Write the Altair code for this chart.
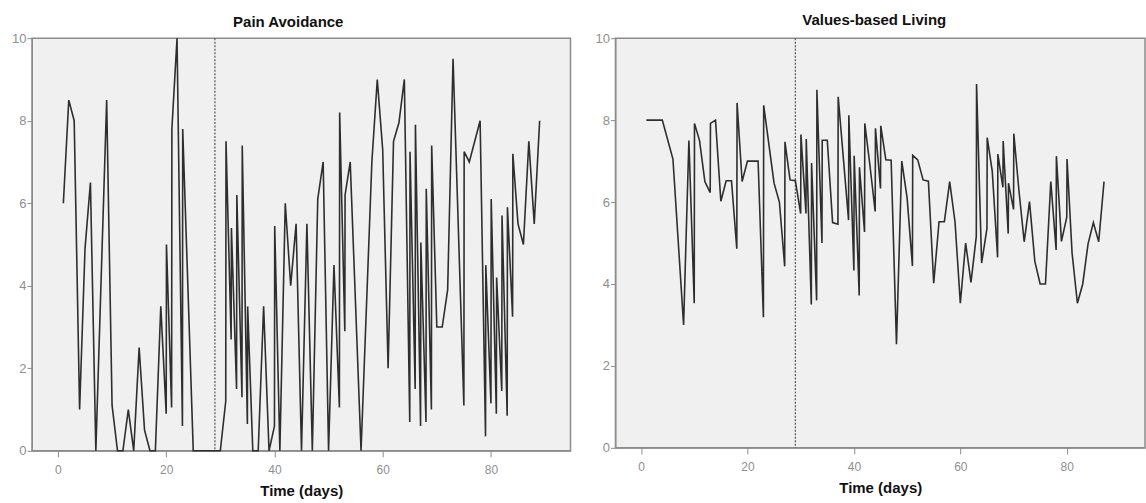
import altair as alt
import pandas as pd

# ---------------- data ----------------
pain_days = [1, 2, 3, 4, 5, 6, 7, 9, 10, 11, 12, 13, 14, 15, 16, 17, 18, 19, 20, 20.05,
             21, 21.05, 22, 23, 23.05, 25, 30, 31, 31.05, 32, 32.05, 33, 33.05, 34, 34.05,
             35, 35.05, 36, 37, 38, 39, 40, 40.05, 41, 42, 43, 44, 45, 46, 47, 48, 49, 50,
             51, 52, 52.05, 53, 53.05, 54, 56, 58, 59, 60, 61, 62, 63, 64, 65, 65.05, 66,
             66.05, 67, 67.05, 68, 68.05, 69, 69.05, 70, 71, 72, 73, 75, 75.05, 76, 78, 79,
             79.05, 80, 80.05, 81, 81.05, 82, 82.05, 83, 83.05, 84, 84.05, 85, 86, 87, 88, 89]
pain_vals = [6.0, 8.5, 8.0, 1.0, 4.9, 6.5, 0, 8.5, 1.1, 0, 0, 1.0, 0, 2.5, 0.5, 0, 0, 3.5, 0.9, 5.0,
             1.05, 7.8, 10, 0.6, 7.8, 0, 0, 1.2, 7.5, 2.7, 5.4, 1.5, 6.2, 1.3, 7.4,
             0.65, 3.5, 0, 0, 3.5, 0, 0.6, 5.45, 0, 6.0, 4.0, 5.5, 0, 5.5, 0, 6.1, 7.0, 0,
             4.5, 1.05, 8.2, 2.9, 6.2, 7.0, 0, 7.0, 9.0, 7.3, 2.0, 7.5, 7.95, 9.0, 0.7, 7.25, 1.5,
             7.9, 0.6, 5.05, 0.7, 6.35, 1.0, 7.4, 3.0, 3.0, 3.9, 9.5, 1.1, 7.25, 7.0, 8.0, 0.35,
             4.5, 1.15, 6.1, 0.9, 4.2, 1.45, 5.7, 0.85, 5.9, 3.25, 7.2, 5.5, 5.0, 7.5, 5.5, 8.0]

val_days = [1, 2, 3, 4, 6, 8, 9, 10, 10.05, 11, 12, 13, 13.05, 14, 15, 16, 17, 18, 18.05, 19,
            20, 21, 22, 23, 23.05, 25, 26, 27, 27.05, 28, 29, 30, 30.05, 31, 31.05, 32, 32.05,
            33, 33.05, 34, 34.05, 35, 36, 37, 37.05, 39, 39.05, 40, 40.05, 41, 41.05, 42, 42.05,
            43, 44, 44.05, 45, 45.05, 46, 47, 48, 49, 50, 51, 51.05, 52, 53, 54, 55, 56, 57, 58,
            59, 60, 61, 62, 63, 63.05, 64, 65, 65.05, 66, 67, 67.05, 68, 68.05, 69, 69.05, 70,
            70.05, 71, 72, 73, 74, 75, 76, 77, 78, 78.05, 79, 80, 80.05, 81, 82, 83, 84, 85, 86, 87]
val_vals = [8.0, 8.0, 8.0, 8.0, 7.05, 3.0, 7.5, 3.53, 7.92, 7.5, 6.5, 6.23, 7.92, 8.0, 6.02, 6.52,
            6.52, 4.86, 8.42, 6.5, 7.0, 7.0, 7.0, 3.19, 8.36, 6.46, 6.0, 4.43, 7.47, 6.54, 6.52,
            5.72, 7.65, 5.72, 7.54, 3.5, 6.95, 3.6, 8.74, 5.0, 7.51, 7.51, 5.5, 5.46, 8.57, 5.56,
            8.12, 4.33, 7.13, 3.72, 6.85, 5.27, 7.92, 6.91, 5.77, 7.8, 6.33, 7.86, 7.03, 7.02,
            2.53, 7.0, 6.1, 4.44, 7.14, 7.03, 6.54, 6.51, 4.02, 5.52, 5.52, 6.5, 5.52, 3.53, 5.0,
            4.04, 5.16, 8.88, 4.51, 5.35, 7.57, 6.75, 4.65, 7.17, 6.36, 7.49, 5.23, 6.46, 5.82,
            7.67, 6.3, 5.03, 6.01, 4.55, 4.0, 4.0, 6.5, 4.83, 7.12, 5.04, 5.63, 7.05, 4.75, 3.53,
            4.0, 4.98, 5.5, 5.03, 6.5]

phase_change = [29]
x_ticks = [0, 20, 40, 60, 80]
y_ticks = [0, 2, 4, 6, 8, 10]

FONT = "Liberation Sans"


def panel(days, vals, title, w, h, title_offset, title_dx):
    df = pd.DataFrame({"day": days, "score": vals, "idx": list(range(len(days)))})
    x = alt.X("day:Q",
              scale=alt.Scale(domain=[-4.8, 94.7], nice=False, zero=False),
              axis=alt.Axis(values=x_ticks, title="Time (days)", grid=False,
                            tickSize=6, tickColor="#8c8c8c", domainColor="#8c8c8c",
                            labelColor="#8f8f8f", labelFontSize=12, labelFont=FONT,
                            labelPadding=8, titleFont=FONT, titleFontSize=15,
                            titleFontWeight="bold", titleColor="#111", titlePadding=8))
    y = alt.Y("score:Q",
              scale=alt.Scale(domain=[0, 10], nice=False, zero=True),
              axis=alt.Axis(values=y_ticks, title=None, grid=False,
                            tickSize=5, tickColor="#8c8c8c", domainColor="#8c8c8c",
                            labelColor="#8f8f8f", labelFontSize=13, labelFont=FONT,
                            labelPadding=1))
    line = alt.Chart(df).mark_line(color="#2e2e2e", strokeWidth=1.6).encode(
        x=x, y=y, order="idx:Q")
    rule = alt.Chart(pd.DataFrame({"day": phase_change})).mark_rule(
        color="#555555", strokeWidth=1.2, strokeDash=[2, 1.5]).encode(x="day:Q")
    return alt.layer(rule, line).properties(
        width=w, height=h,
        title=alt.TitleParams(title, font=FONT, fontSize=15, fontWeight="bold",
                              color="#111", offset=title_offset, dx=title_dx,
                              anchor="middle"))


left = panel(pain_days, pain_vals, "Pain Avoidance", 539, 413, 2, -13)
right = panel(val_days, val_vals, "Values-based Living", 530, 410, 4, -6)

chart = alt.hconcat(left, right, spacing=22).configure_view(
    fill="#f0f0f0", stroke="#8c8c8c", strokeWidth=1.5
).properties(
    padding={"left": 10, "top": 12, "right": 0, "bottom": 0},
    background="white",
)

chart.save("out.html", embed_options={"renderer": "svg", "actions": False})
